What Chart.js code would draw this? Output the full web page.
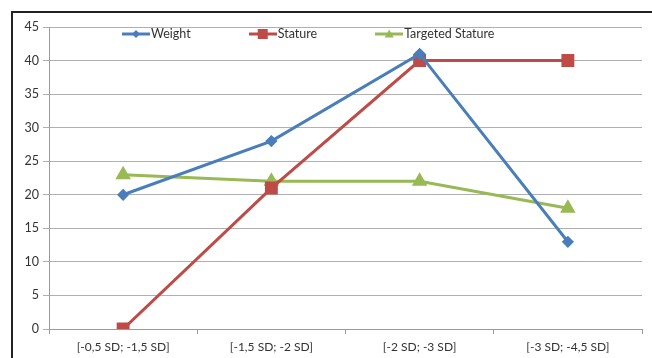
<!DOCTYPE html>
<html>
<head>
<meta charset="utf-8">
<script src="https://cdn.jsdelivr.net/npm/chart.js@4"></script>
<style>
  body { margin: 0; background: #fff; }
  #frame { position: absolute; left: 11px; top: 11px; width: 645px; height: 350px;
           border-top: 2px solid #222; border-left: 2px solid #222; }
  #wrap { position: absolute; left: 13px; top: 14px; width: 639px; height: 344px; }
</style>
</head>
<body>
<div id="frame"></div>
<div id="wrap"><canvas id="chart-sd"></canvas></div>
<script>
// categories (SD ranges) and series
const categories = ['[-0,5 SD; -1,5 SD]', '[-1,5 SD; -2 SD]', '[-2 SD; -3 SD]', '[-3 SD; -4,5 SD]'];
const weight = [20, 28, 41, 13];
const stature = [0, 21, 40, 40];
const targetedStature = [23, 22, 22, 18];
const yTicks = [0, 5, 10, 15, 20, 25, 30, 35, 40, 45];

const BLUE = '#4a7ebb';
const RED = '#be4b48';
const GREEN = '#98b954';
const TEXT = '#333333';
const FONT = '12.5px Lato';

// small icon for the legend: line with the marker in the middle
function legendIcon(color, style) {
    var c = document.createElement('canvas');
    c.width = 28; c.height = 12;
    var g = c.getContext('2d');
    g.strokeStyle = color; g.fillStyle = color; g.lineWidth = 3;
    g.beginPath(); g.moveTo(0, 6); g.lineTo(28, 6); g.stroke();
    g.beginPath();
    if (style === 'rectRot') {
        g.moveTo(14, 2); g.lineTo(18, 6); g.lineTo(14, 10); g.lineTo(10, 6);
    } else if (style === 'rect') {
        g.rect(9, 1, 10, 10);
    } else {
        g.moveTo(14, 1.5); g.lineTo(18.5, 9.5); g.lineTo(9.5, 9.5);
    }
    g.closePath(); g.fill();
    return c;
}

// legend drawn inside the plot, in one row under the 45 line
const insideLegend = {
    id: 'insideLegend',
    afterDraw(chart) {
        var c = chart.ctx;
        var area = chart.chartArea;
        var x = area.left + 73;
        var y = area.top + 7;
        c.save();
        c.font = FONT;
        c.fillStyle = TEXT;
        c.textBaseline = 'middle';
        chart.data.datasets.forEach(function (ds) {
            c.drawImage(ds.icon, x, y - 6);
            c.fillText(ds.label, x + 29, y);
            x += 29 + c.measureText(ds.label).width + 58;
        });
        c.restore();
    }
};

var ctx = document.getElementById('chart-sd').getContext('2d');
var chart_sd = new Chart(ctx, {
    type: 'line',
    data: {
        labels: categories,
        datasets: [{
            label: 'Weight',
            data: weight,
            borderColor: BLUE,
            backgroundColor: BLUE,
            borderWidth: 3,
            pointStyle: 'rectRot',
            pointRadius: 4,
            icon: legendIcon(BLUE, 'rectRot')
        }, {
            label: 'Stature',
            data: stature,
            borderColor: RED,
            backgroundColor: RED,
            borderWidth: 3,
            pointStyle: 'rect',
            pointRadius: 7,
            icon: legendIcon(RED, 'rect')
        }, {
            label: 'Targeted Stature',
            data: targetedStature,
            borderColor: GREEN,
            backgroundColor: GREEN,
            borderWidth: 3,
            pointStyle: 'triangle',
            pointRadius: 6,
            icon: legendIcon(GREEN, 'triangle')
        }]
    },
    options: {
        responsive: true,
        maintainAspectRatio: false,
        animation: false,
        layout: { padding: { top: 13, right: 5, left: 0, bottom: 0 } },
        plugins: {
            tooltip: { enabled: false },
            legend: { display: false }
        },
        scales: {
            x: {
                offset: true,
                afterFit(scale) { scale.height = 29; },
                grid: {
                    offset: true,
                    drawOnChartArea: false,
                    drawTicks: true,
                    tickLength: 5,
                    color: '#9a9a9a'
                },
                border: { color: '#9a9a9a', width: 1 },
                ticks: {
                    color: TEXT,
                    padding: 6,
                    maxRotation: 0,
                    font: { family: 'Lato', size: 12 }
                }
            },
            y: {
                min: 0,
                max: 45,
                afterFit(scale) { scale.width = 36; },
                afterBuildTicks(scale) { scale.ticks = yTicks.map(v => ({ value: v })); },
                grid: {
                    color: '#b0b0b0',
                    lineWidth: 1,
                    tickLength: 6
                },
                border: { color: '#9a9a9a', width: 1 },
                ticks: {
                    color: TEXT,
                    padding: 4,
                    font: { family: 'Lato', size: 12.5 }
                }
            }
        }
    },
    plugins: [insideLegend]
});
</script>
</body>
</html>
